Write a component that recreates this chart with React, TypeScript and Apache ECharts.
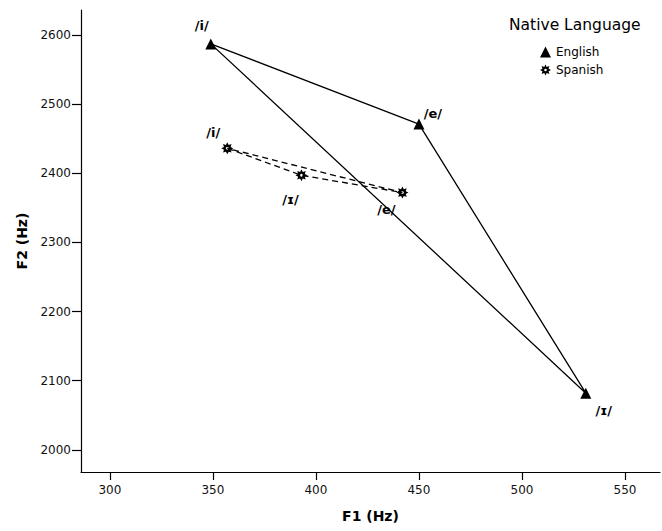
import React, { useEffect, useRef } from "react";
import * as echarts from "echarts";

const vowels = ["/i/", "/e/", "/ɪ/"];
const spanishVowels = ["/i/", "/ɪ/", "/e/"];
const englishF1 = [349, 450, 531];
const englishF2 = [2587, 2471, 2082];
const spanishF1 = [357, 393, 442];
const spanishF2 = [2436, 2397, 2372];
const xTicks = [300, 350, 400, 450, 500, 550];
const yTicks = [2000, 2100, 2200, 2300, 2400, 2500, 2600];

const englishOffsets = [[-9, -18], [14, -11], [18, 17]];
const spanishOffsets = [[-14, -16], [-11, 24], [-16, 17]];

const STAR =
  "path://M10 0 L12.3 4.46 L17.07 2.93 L15.54 7.7 L20 10 L15.54 12.3 L17.07 17.07 L12.3 15.54 L10 20 L7.7 15.54 L2.93 17.07 L4.46 12.3 L0 10 L4.46 7.7 L2.93 2.93 L7.7 4.46 Z M10 7.6 L8.3 8.3 L7.6 10 L8.3 11.7 L10 12.4 L11.7 11.7 L12.4 10 L11.7 8.3 Z";

const FONT = "DejaVu Sans";

export default function App() {
  const ref = useRef<HTMLDivElement>(null);
  useEffect(() => {
    const chart = echarts.init(ref.current!, null, { renderer: "svg" });
    const enPts = englishF1.map((x, i) => [x, englishF2[i]]);
    const spPts = spanishF1.map((x, i) => [x, spanishF2[i]]);
    const labelStyle = {
      show: true,
      position: "inside",
      color: "#000",
      fontFamily: FONT,
      fontSize: 13,
      fontWeight: "bold",
    };
    chart.setOption({
      animation: false,
      backgroundColor: "#fff",
      grid: { left: 81, right: 2, top: 10, bottom: 59, containLabel: false },
      xAxis: {
        type: "value",
        min: 286,
        max: 567,
        name: "F1 (Hz)",
        nameLocation: "middle",
        nameGap: 37,
        nameTextStyle: { fontFamily: FONT, fontSize: 14, fontWeight: "bold", color: "#000" },
        splitLine: { show: false },
        axisLine: { show: true, onZero: false, lineStyle: { color: "#000", width: 1.2 } },
        axisTick: { show: true, length: 8, customValues: xTicks, lineStyle: { color: "#000", width: 1.2 } },
        axisLabel: {
          customValues: xTicks,
          fontFamily: FONT,
          fontSize: 12,
          color: "#111",
          margin: 12,
          formatter: (v: number) => String(v),
        },
      },
      yAxis: {
        type: "value",
        min: 1968,
        max: 2636,
        name: "F2 (Hz)",
        nameLocation: "middle",
        nameGap: 52,
        nameTextStyle: { fontFamily: FONT, fontSize: 14, fontWeight: "bold", color: "#000" },
        splitLine: { show: false },
        axisLine: { show: true, onZero: false, lineStyle: { color: "#000", width: 1.2 } },
        axisTick: { show: true, length: 9, customValues: yTicks, lineStyle: { color: "#000", width: 1.2 } },
        axisLabel: {
          customValues: yTicks,
          fontFamily: FONT,
          fontSize: 12,
          color: "#111",
          margin: 10,
          formatter: (v: number) => String(v),
        },
      },
      legend: {
        orient: "vertical",
        left: 535,
        top: 41,
        itemWidth: 11,
        itemHeight: 11,
        itemGap: 6,
        textStyle: { fontFamily: FONT, fontSize: 12, color: "#000" },
        itemStyle: { opacity: 1 },
        data: [
          { name: "English", icon: "triangle" },
          { name: "Spanish", icon: STAR },
        ],
      },
      graphic: [
        {
          type: "text",
          left: 509,
          top: 17,
          style: { text: "Native Language", fontFamily: FONT, fontSize: 15.5, fill: "#000" },
        },
      ],
      series: [
        {
          name: "EnglishLine",
          type: "line",
          data: [...enPts, enPts[0]],
          showSymbol: false,
          silent: true,
          lineStyle: { color: "#000", width: 1.3 },
          z: 1,
        },
        {
          name: "SpanishLine",
          type: "line",
          data: [...spPts, spPts[0]],
          showSymbol: false,
          silent: true,
          lineStyle: { color: "#000", width: 1.3, type: [6, 4] },
          z: 1,
        },
        {
          name: "English",
          type: "scatter",
          symbol: "triangle",
          symbolSize: 11,
          itemStyle: { color: "#000", opacity: 1 },
          data: enPts.map((p, i) => ({
            value: p,
            label: { ...labelStyle, formatter: vowels[i], offset: englishOffsets[i] },
          })),
          z: 3,
        },
        {
          name: "Spanish",
          type: "scatter",
          symbol: STAR,
          symbolSize: 12,
          itemStyle: { color: "#000", opacity: 1 },
          data: spPts.map((p, i) => ({
            value: p,
            label: { ...labelStyle, formatter: spanishVowels[i], offset: spanishOffsets[i] },
          })),
          z: 3,
        },
      ],
    });
    return () => chart.dispose();
  }, []);
  return <div ref={ref} style={{ width: 662, height: 531, position: "absolute", left: 0, top: 0 }} />;
}
